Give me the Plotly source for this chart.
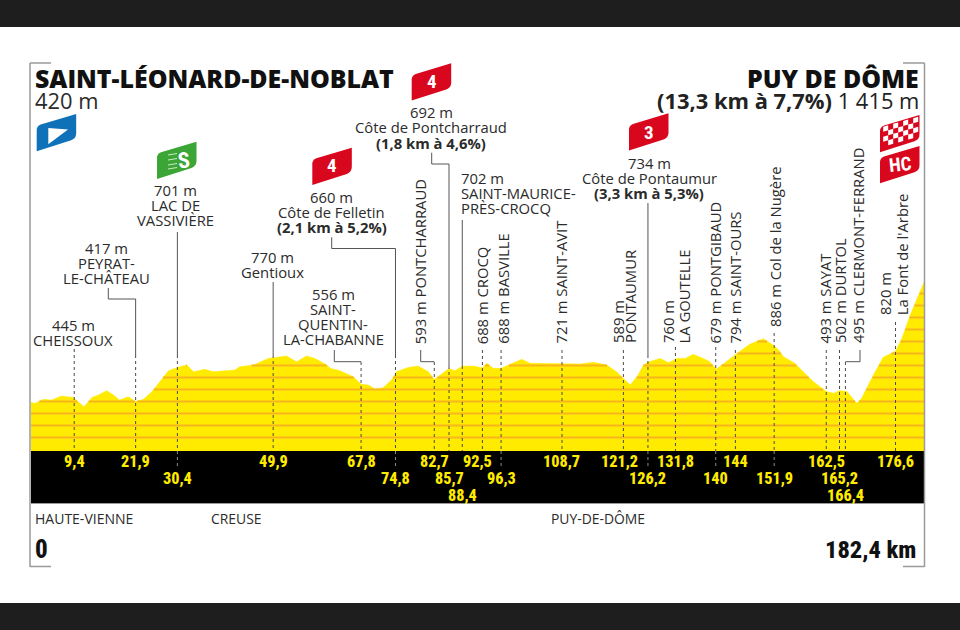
import numpy as np
import plotly.graph_objects as go

# ---- data ----
profile_km = [0, 1.4, 3.1, 4.8, 6.8, 9.2, 10.2, 11.4, 13.0, 14.3, 16.0, 17.4, 18.6, 20.4, 21.9, 23.5, 25.2, 27.5,
              28.6, 30.4, 32.3, 33.7, 36.0, 37.7, 42.1, 43.1, 45.9, 48.9, 50.6, 52.6, 54.7, 56.7, 58.4, 60.8,
              61.5, 63.5, 66.2, 67.8, 69.3, 70.6, 72.3, 74.0, 75.0, 77.4, 79.4, 81.5, 82.7, 84.5, 85.7, 86.9,
              88.4, 90.7, 92.5, 93.4, 94.7, 96.3, 98.5, 100.5, 102.2, 105.6, 108.7, 112.4, 115.1, 117.8, 119.8,
              121.5, 122.6, 124.2, 125.3, 126.3, 128.7, 130.4, 132.1, 133.8, 135.4, 137.8, 138.8, 140.1, 141.2,
              143.9, 147.0, 149.7, 151.9, 152.8, 153.8, 156.1, 157.8, 159.9, 162.5, 164.0, 165.2, 166.7, 168.7,
              169.7, 172.1, 174.1, 176.6, 177.9, 179.6, 180.9, 182.4]
profile_alt = [420, 405, 439, 433, 466, 455, 419, 377, 455, 475, 511, 475, 433, 461, 420, 439, 502, 627,
               677, 705, 725, 669, 689, 669, 683, 711, 725, 780, 789, 800, 752, 800, 780, 725,
               697, 677, 627, 565, 558, 525, 536, 600, 669, 705, 716, 669, 605, 655, 695, 677,
               715, 716, 700, 739, 697, 697, 733, 772, 739, 739, 735, 733, 747, 725, 669,
               600, 558, 641, 725, 750, 780, 744, 780, 780, 814, 772, 753, 690, 725,
               808, 900, 944, 886, 850, 794, 739, 669, 586, 505, 489, 511, 505, 406,
               447, 642, 789, 840, 947, 1142, 1267, 1415]
band_levels = [120, 220, 320, 420, 520, 620, 720, 820, 920, 1020, 1120, 1220, 1320]

km_row1 = ["9,4", "21,9", "49,9", "67,8", "82,7", "92,5", "108,7", "121,2", "131,8", "144", "162,5", "176,6"]
km_row2 = ["30,4", "74,8", "85,7", "96,3", "126,2", "140", "151,9", "165,2"]
km_row3 = ["88,4", "166,4"]
row1_km = [9.4, 21.9, 49.9, 67.8, 82.7, 92.5, 108.7, 121.2, 131.8, 144, 162.5, 176.6]
row2_km = [30.4, 74.8, 85.7, 96.3, 126.2, 140, 151.9, 165.2]
row3_km = [88.4, 166.4]

departments = ["HAUTE-VIENNE", "CREUSE", "PUY-DE-DÔME"]
start_name, finish_name = "SAINT-LÉONARD-DE-NOBLAT", "PUY DE DÔME"
start_alt, finish_alt = "420 m", "1 415 m"
finish_climb = "(13,3 km à 7,7%)"
total_km = "182,4 km"

# ---- page geometry helpers ----
W, H = 960, 630
LEFT, RIGHT, BASE, TOP = 31, 924, 452, 282.2
YELLOW, ORANGE = "#ffeb00", "#f9b51c"
TXT = "#2b2b2b"
SANS = "Open Sans"
NARROW = "Roboto Condensed, Roboto"

def px(x): return x / W
def py(y): return 1 - y / H

anns, shapes = [], []

def text(x, y, s, size=14.8, color=TXT, font=SANS, anchor="center", angle=0, yanchor="middle", weight=None, xref="paper"):
    f = dict(family=font, size=size, color=color)
    if weight: f["weight"] = weight
    anns.append(dict(x=x if xref == "x" else px(x), y=py(y), xref=xref, yref="paper", text=s, showarrow=False,
                     xanchor=anchor, yanchor=yanchor, textangle=angle, font=f, borderpad=0, borderwidth=0))

def rect(x0, y0, x1, y1, color, layer="below"):
    shapes.append(dict(type="rect", xref="paper", yref="paper", x0=px(x0), x1=px(x1), y0=py(y0), y1=py(y1),
                       fillcolor=color, line=dict(width=0), layer=layer))

def seg(x0, y0, x1, y1, color="#555555", width=1, dash=None, xref="paper"):
    fx = (lambda v: v) if xref == "x" else px
    shapes.append(dict(type="line", xref=xref, yref="paper", x0=fx(x0), x1=fx(x1), y0=py(y0), y1=py(y1),
                       line=dict(color=color, width=width, dash=dash or "solid"), layer="above"))

def path(points, color, close=True):
    d = ""
    for p in points:
        if p[0] == "Q":
            d += f"Q {px(p[1])},{py(p[2])} {px(p[3])},{py(p[4])} "
        else:
            d += ("M " if not d else "L ") + f"{px(p[0])},{py(p[1])} "
    shapes.append(dict(type="path", xref="paper", yref="paper", path=d + ("Z" if close else ""),
                       fillcolor=color, line=dict(width=0), layer="above"))

def flag(x0, ytop, color, w=39.5):
    x1 = x0 + w
    path([(x0, ytop + 16), ("Q", x0, ytop + 12.5, x0 + 4, ytop + 10.6), (x1, ytop), (x1, ytop + 19),
          ("Q", x1, ytop + 24.5, x1 - 5, ytop + 26.2), (x0, ytop + 37.3)], color)

# page bands, black strip, frame
rect(0, 0, W, 27, "#1e1e1e")
rect(0, 603, W, H, "#1e1e1e")
rect(LEFT, 451, RIGHT, 503, "#000000", layer="above")
seg(LEFT, 503.5, RIGHT, 503.5, "#9a9a9a", 1)
FRAME = "#9a9a9a"
seg(30, 63, 30, 567, FRAME, 1.5)
seg(30, 63, 51, 63, FRAME, 1.5)
seg(30, 566.5, 51, 566.5, FRAME, 1.5)
seg(924.5, 63, 924.5, 567, FRAME, 1.5)
seg(903, 63, 924.5, 63, FRAME, 1.5)
seg(903, 566.5, 924.5, 566.5, FRAME, 1.5)

# stop lines: km, solid from / to, dash to
dashes = [(9.4, 349, 451), (21.9, 355, 451), (30.4, 355, 468), (49.9, 355, 451), (67.8, 362, 451), (74.8, 355, 468),
          (82.7, 362, 451), (85.7, 366, 451), (88.4, 366, 451), (92.5, 350, 451), (96.3, 350, 468), (108.7, 350, 451),
          (121.2, 350, 451), (126.2, 355, 468), (131.8, 347, 451), (140, 347, 468), (144, 350, 451), (151.9, 333, 468),
          (162.5, 350, 451), (165.2, 350, 451), (166.4, 362, 451), (176.6, 322, 451)]
for k, a, b in dashes:
    seg(k, a, k, 451, "#4a4a4a", 1, "3px,3px", xref="x")
    if b > 451:
        seg(k, 451, k, b, "#8a8a8a", 1, "3px,3px", xref="x")

solids = [(30.4, 232, 355), (49.9, 282, 355), (74.8, 248.5, 355), (85.7, 164, 366), (88.4, 220, 366), (126.2, 203, 355),
          (21.9, 299, 355)]
for k, a, b in solids:
    seg(k, a, k, b, "#555555", 1, xref="x")

elbows = [(108.3, 288, 299, 21.9), (334.3, 350, 361.7, 67.8), (331.7, 237.3, 248.5, 74.8),
          (420.7, 350, 361.7, 82.7), (431.7, 152.7, 164, 85.7), (860, 350, 361.7, 166.4)]
for x, a, b, k in elbows:
    seg(x, a, x, b)
    seg(x, b, 28.05 + 4.912 * k, b)

# flags
BLUE, GREEN, RED = "#0f72b8", "#3ba535", "#d9071e"
flag(36.7, 114, BLUE)
path([(48.3, 128), (68, 129.5), (48.3, 144.3)], "#ffffff")
flag(157, 141.7, GREEN)
for yy in (155, 160, 165, 169):
    seg(168, yy, 177, yy - 1.5, "#cdeac7", 1)
text(183.5, 160, "S", 22, "#ffffff", NARROW, weight=700, angle=-6)
flag(312.3, 147.7, RED)
text(332, 166, "4", 19, "#ffffff", NARROW, weight=700)
flag(411.7, 63.3, RED)
text(431.5, 82, "4", 19, "#ffffff", NARROW, weight=700)
flag(629, 113.3, RED)
text(649, 132, "3", 19, "#ffffff", NARROW, weight=700)
flag(880, 115, RED)
slope = -10 / 35
cw, ch = 5.0, 5.0
for r in range(4):
    for c in range(7):
        if (r + c) % 2 == 0:
            xa, xb = 883.2 + c * cw, 883.2 + (c + 1) * cw
            ya = 126.7 + slope * (xa - 883.2) + r * ch
            yb = 126.7 + slope * (xb - 883.2) + r * ch
            path([(xa, ya), (xb, yb), (xb, yb + ch), (xa, ya + ch)], "#ffffff")
flag(880, 146, RED)
text(900, 165, "HC", 19, "#ffffff", NARROW, weight=700, angle=-6)

# headings
text(34.5, 78, start_name, 24.9, "#111111", weight=800, anchor="left")
text(35, 100, start_alt, 21.9, TXT, anchor="left")
text(919, 78, finish_name, 24.9, "#111111", weight=800, anchor="right")
text(919, 100, f"<b>{finish_climb}</b> {finish_alt}", 21.9, "#222222", anchor="right")

# horizontal labels
def block(x, y0, lines, anchor="center", step=14.9):
    for i, l in enumerate(lines):
        text(x, y0 + i * step, l, anchor=anchor)

block(73, 325, ["445 m", "CHEISSOUX"])
block(106.7, 248, ["417 m", "PEYRAT-", "LE-CHÂTEAU"])
block(175, 190, ["701 m", "LAC DE", "VASSIVIÈRE"])
block(272, 256.7, ["770 m", "Gentioux"])
block(331.7, 196.7, ["660 m", "Côte de Felletin", "<b>(2,1 km à 5,2%)</b>"], step=15)
block(333.3, 294.3, ["556 m", "SAINT-", "QUENTIN-", "LA-CHABANNE"])
block(431, 112.3, ["692 m", "Côte de Pontcharraud", "<b>(1,8 km à 4,6%)</b>"], step=15.2)
block(460.7, 178, ["702 m", "SAINT-MAURICE-", "PRÈS-CROCQ"], anchor="left")
block(649, 162.7, ["734 m", "Côte de Pontaumur", "<b>(3,3 km à 5,3%)</b>"], step=15.2)

# vertical labels
vertical = [(420.7, 344, "593 m PONTCHARRAUD"), (482.3, 344, "688 m CROCQ"), (502.7, 344, "688 m BASVILLE"),
            (561, 344, "721 m SAINT-AVIT"), (618, 343.5, "589 m"), (630, 343.5, "PONTAUMUR"),
            (668, 343.5, "760 m"), (684, 343.5, "LA GOUTELLE"), (715, 343.5, "679 m PONTGIBAUD"),
            (735, 343.5, "794 m SAINT-OURS"), (775, 327.5, "886 m Col de la Nugère"), (825, 343.5, "493 m SAYAT"),
            (840, 343.5, "502 m DURTOL"), (858, 343.5, "495 m CLERMONT-FERRAND"), (885, 315.5, "820 m"),
            (901.7, 315.5, "La Font de l'Arbre")]
for x, y, s in vertical:
    text(x, y, s, angle=-90, yanchor="bottom")

# km labels
shift = {"92,5": -0.9, "121,2": -0.8}
for labels, kms, y in ((km_row1, row1_km, 461.7), (km_row2, row2_km, 478), (km_row3, row3_km, 495)):
    for s, k in zip(labels, kms):
        text(k + shift.get(s, 0), y, s, 16.2, YELLOW, NARROW, weight=800, xref="x")

# bottom texts
text(35, 518, departments[0], 14, anchor="left")
text(210.5, 518.5, departments[1], 13.9, anchor="left")
text(551, 518.5, departments[2], 13.9, anchor="left")
text(35, 549.5, "0", 25, "#111111", NARROW, anchor="left", weight=800)
text(916, 549.5, total_km, 24.4, "#111111", NARROW, anchor="right", weight=800)

fig = go.Figure()
fig.add_trace(go.Scatter(x=profile_km, y=profile_alt, mode="lines", fill="tozeroy", fillcolor=YELLOW,
                         line=dict(color=YELLOW, width=0.5), hoverinfo="skip"))
fine_km = np.linspace(0, 182.4, 3649)
fine_alt = np.interp(fine_km, profile_km, profile_alt)
for lv in band_levels:
    yy = np.where(fine_alt >= lv + 3, float(lv), np.nan)
    fig.add_trace(go.Scatter(x=fine_km, y=yy, mode="lines", line=dict(color=ORANGE, width=2),
                             connectgaps=False, hoverinfo="skip"))

fig.update_layout(
    width=W, height=H, margin=dict(l=0, r=0, t=0, b=0), showlegend=False,
    paper_bgcolor="#ffffff", plot_bgcolor="rgba(0,0,0,0)",
    xaxis=dict(domain=[px(LEFT), px(RIGHT)], range=[0.6, 182.4], visible=False, fixedrange=True),
    yaxis=dict(domain=[py(BASE), py(TOP)], range=[0, 1415], visible=False, fixedrange=True),
    shapes=shapes, annotations=anns,
)
fig.write_html("out.html", config={"displayModeBar": False},
               post_script="document.body.style.margin='0';document.documentElement.style.overflow='hidden';")
